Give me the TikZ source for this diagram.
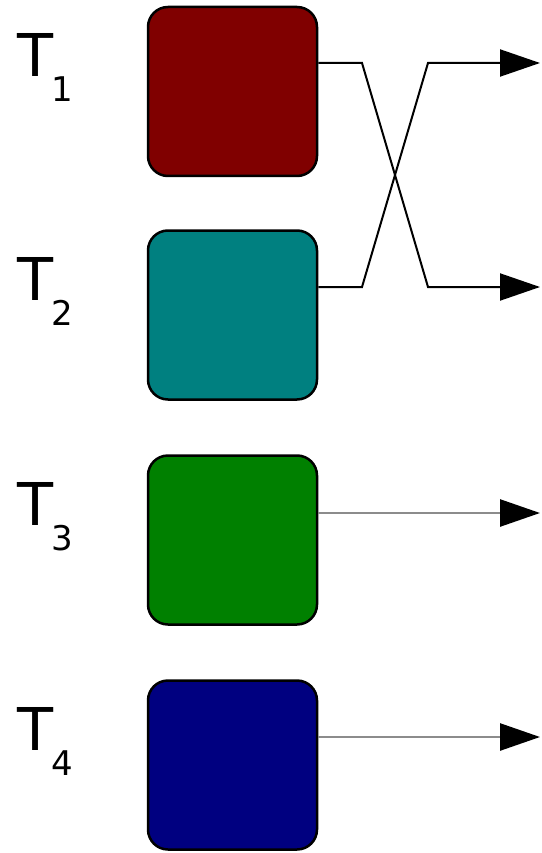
\documentclass[tikz,border=0pt]{standalone}
\usepackage{fontspec}
\setmainfont{DejaVu Sans}
\usetikzlibrary{arrows.meta}
\definecolor{tred}{HTML}{800000}
\definecolor{tteal}{HTML}{008080}
\definecolor{tgreen}{HTML}{008000}
\definecolor{tnavy}{HTML}{000080}
\tikzset{
  taskbox/.style={draw=black, line width=2.5pt, rounded corners=20pt,
    minimum width=169pt, minimum height=169pt, inner sep=0pt},
  tlabel/.style={anchor=base west, inner sep=0pt, font=\fontsize{59}{59}\selectfont},
  wire/.style={line width=2pt, black},
  greywire/.style={line width=2.6pt, black!45},
  outarrow/.style={-{Triangle[length=40pt,width=27pt,fill=black,color=black]}},
}
\newcommand{\tasklabel}[1]{T\kern-2pt\raisebox{-25pt}{\fontsize{34}{34}\selectfont #1}}
\begin{document}
\begin{tikzpicture}[x=1pt,y=-1pt]
\useasboundingbox (0,0) rectangle (541,853);

% task boxes
\node[taskbox, fill=tred]   (b1) at (232.5, 91.5) {};
\node[taskbox, fill=tteal]  (b2) at (232.5, 315) {};
\node[taskbox, fill=tgreen] (b3) at (232.5, 540) {};
\node[taskbox, fill=tnavy]  (b4) at (232.5, 765) {};

% labels
\node[tlabel] (l1) at (17, 77)  {\tasklabel{1}};
\node[tlabel] (l2) at (17, 300) {\tasklabel{2}};
\node[tlabel] (l3) at (17, 525) {\tasklabel{3}};
\node[tlabel] (l4) at (17, 750) {\tasklabel{4}};

% bend points of the crossover and free ends of the outputs
\coordinate (k1) at (362, 63);
\coordinate (k2) at (362, 287);
\coordinate (j1) at (428, 63);
\coordinate (j2) at (428, 287);
\coordinate (o1) at (540, 63);
\coordinate (o2) at (540, 287);
\coordinate (o3) at (540, 513);
\coordinate (o4) at (540, 737);

% crossed outputs of T1 and T2
\draw[wire, outarrow] (b1.east |- k1) -- (k1) -- (j2) -- (o2);
\draw[wire, outarrow] (b2.east |- k2) -- (k2) -- (j1) -- (o1);

% straight outputs of T3 and T4
\draw[greywire, outarrow] (b3.east |- o3) -- (o3);
\draw[greywire, outarrow] (b4.east |- o4) -- (o4);
\end{tikzpicture}
\end{document}
